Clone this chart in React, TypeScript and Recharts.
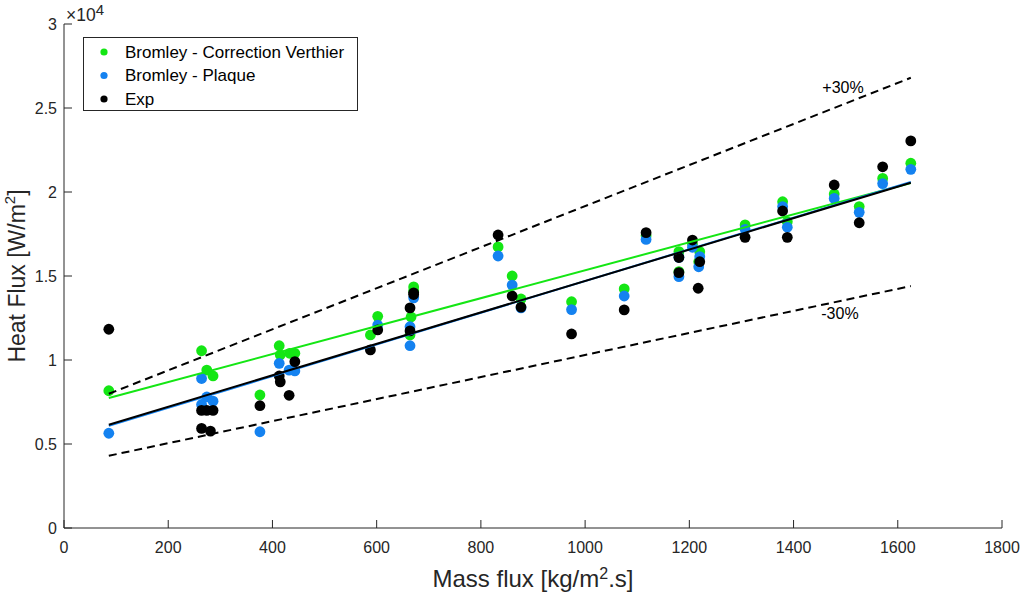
import React from 'react';
import { ScatterChart, Scatter, XAxis, YAxis, ReferenceDot } from 'recharts';

const xTicks = [0, 200, 400, 600, 800, 1000, 1200, 1400, 1600, 1800];
const yTicks = [0, 5000, 10000, 15000, 20000, 25000, 30000];

const seriesNames = ['Bromley - Correction Verthier', 'Bromley - Plaque', 'Exp'];
const seriesColors = ['#14e614', '#1482f0', '#000000'];

const verthierX = [86, 264, 274, 286, 376, 413, 415, 433, 443, 588, 602, 664, 666, 671, 671, 833, 860, 877, 974, 1075, 1117, 1180, 1180, 1206, 1220, 1218, 1307, 1379, 1388, 1478, 1526, 1571, 1625];
const verthierY = [8170, 10550, 9400, 9050, 7920, 10850, 10300, 10400, 10400, 11490, 12600, 11490, 12560, 14350, 14100, 16730, 15000, 13630, 13470, 14230, 17400, 16450, 15260, 16900, 16450, 15850, 18040, 19420, 18230, 19880, 19130, 20810, 21710];

const plaqueX = [86, 264, 264, 274, 286, 376, 413, 432, 443, 602, 664, 664, 671, 833, 860, 877, 974, 1075, 1117, 1180, 1180, 1206, 1220, 1218, 1307, 1379, 1388, 1478, 1526, 1571, 1625];
const plaqueY = [5640, 8900, 7350, 7800, 7550, 5730, 9800, 9400, 9350, 12080, 11980, 10850, 13700, 16190, 14460, 13100, 13000, 13810, 17180, 16110, 14960, 16710, 16150, 15550, 17780, 19130, 17900, 19620, 18790, 20500, 21350];

const expX = [86, 264, 274, 286, 264, 281, 376, 413, 415, 432, 443, 588, 602, 664, 664, 671, 671, 833, 860, 877, 974, 1075, 1117, 1180, 1180, 1206, 1220, 1217, 1307, 1379, 1388, 1478, 1526, 1571, 1625];
const expY = [11830, 7000, 7000, 7000, 5930, 5770, 7280, 9050, 8700, 7900, 9900, 10600, 11790, 11730, 13100, 14000, 13900, 17440, 13810, 13150, 11550, 12980, 17580, 16100, 15200, 17140, 15850, 14270, 17300, 18870, 17300, 20420, 18170, 21500, 23040];

const fitX = [86, 1625];
const fitVerthierY = [7740, 20540];
const fitPlaqueY = [6080, 20600];
const fitExpY = [6150, 20550];
const plus30Y = [7990, 26800];
const minus30Y = [4300, 14400];

const zip = (xs: number[], ys: number[]) => xs.map((x, i) => ({ x, y: ys[i] }));

const FONT = '"Liberation Sans", Arial, Helvetica, sans-serif';
const AX = '#262626';

const Dot = (color: string) => (props: any) => (
  <circle cx={props.cx} cy={props.cy} r={5.4} fill={color} stroke="none" />
);
const NoDot = () => <g />;

const YLabel = (props: any) => {
  const vb = props.viewBox || {};
  const cy = vb.y + vb.height / 2;
  return (
    <text x={19} y={cy} transform={`rotate(-90 19 ${cy})`} textAnchor="middle" fontSize={23} dominantBaseline="middle" fontFamily={FONT} fill={AX}>
      Heat Flux [W/m<tspan dy={-8} fontSize={15}>2</tspan><tspan dy={8}>]</tspan>
    </text>
  );
};

const XLabel = (props: any) => {
  const vb = props.viewBox || {};
  const cx = vb.x + vb.width / 2;
  return (
    <text x={cx} y={587} textAnchor="middle" fontSize={24} fontFamily={FONT} fill={AX}>
      Mass flux [kg/m<tspan dy={-8} fontSize={16}>2</tspan><tspan dy={8}>.s]</tspan>
    </text>
  );
};

const Exponent = () => (
  <svg width={60} height={26} style={{ position: 'absolute', left: 60, top: 0, overflow: 'visible' }}>
    <text x={6} y={20.5} fontSize={17.5} fontFamily={FONT} fill={AX}>
      ×10<tspan dy={-6} fontSize={15}>4</tspan>
    </text>
  </svg>
);

const LegendBox = () => (
  <div style={{ position: 'absolute', left: 83, top: 37, width: 275, height: 74, boxSizing: 'border-box', border: `1px solid ${AX}`, background: '#fff' }}>
    <svg width={273} height={72} style={{ display: 'block' }}>
      {seriesNames.map((n, i) => (
        <g key={n}>
          <circle cx={20} cy={14 + i * 23.5} r={3.6} fill={seriesColors[i]} />
          <text x={41} y={14 + i * 23.5} dominantBaseline="central" fontSize={17} fontFamily={FONT} fill="#000">{n}</text>
        </g>
      ))}
    </svg>
  </div>
);

const pctLabel = (txt: string) => (props: any) => {
  const vb = props.viewBox || {};
  return (
    <text x={vb.x} y={vb.y} textAnchor="middle" dominantBaseline="central" fontSize={16} fontFamily={FONT} fill="#000">{txt}</text>
  );
};

export default function App() {
  return (
    <div style={{ position: 'relative', width: 1022, height: 595 }}>
      <style>{`html, body { margin: 0; padding: 0; overflow: hidden; } .recharts-surface { overflow: visible; }`}</style>
      <ScatterChart width={1022} height={595} margin={{ top: 24, right: 20, bottom: 0, left: 0 }}>
        <XAxis
          type="number"
          dataKey="x"
          domain={[0, 1800]}
          ticks={xTicks}
          height={67}
          tickSize={-8}
          tickMargin={22}
          axisLine={{ stroke: AX }}
          tickLine={{ stroke: AX }}
          tick={{ fill: AX, fontSize: 16, fontFamily: FONT }}
          allowDataOverflow
          label={<XLabel />}
        />
        <YAxis
          type="number"
          dataKey="y"
          domain={[0, 30000]}
          ticks={yTicks}
          width={64}
          tickSize={-8}
          tickMargin={15}
          axisLine={{ stroke: AX }}
          tickLine={{ stroke: AX }}
          tick={{ fill: AX, fontSize: 16, fontFamily: FONT }}
          tickFormatter={(v: number) => String(v / 10000)}
          allowDataOverflow
          label={<YLabel />}
        />
        <Scatter data={zip(verthierX, verthierY)} fill={seriesColors[0]} shape={Dot(seriesColors[0])} isAnimationActive={false} />
        <Scatter data={zip(plaqueX, plaqueY)} fill={seriesColors[1]} shape={Dot(seriesColors[1])} isAnimationActive={false} />
        <Scatter data={zip(expX, expY)} fill={seriesColors[2]} shape={Dot(seriesColors[2])} isAnimationActive={false} />
        <Scatter data={zip(fitX, plus30Y)} fill="#000" line={{ stroke: '#000', strokeWidth: 2, strokeDasharray: '8 5' }} shape={NoDot} isAnimationActive={false} />
        <Scatter data={zip(fitX, minus30Y)} fill="#000" line={{ stroke: '#000', strokeWidth: 2, strokeDasharray: '8 5' }} shape={NoDot} isAnimationActive={false} />
        <Scatter data={zip(fitX, fitVerthierY)} fill={seriesColors[0]} line={{ stroke: seriesColors[0], strokeWidth: 2 }} shape={NoDot} isAnimationActive={false} />
        <Scatter data={zip(fitX, fitPlaqueY)} fill={seriesColors[1]} line={{ stroke: seriesColors[1], strokeWidth: 2 }} shape={NoDot} isAnimationActive={false} />
        <Scatter data={zip(fitX, fitExpY)} fill="#000" line={{ stroke: '#000', strokeWidth: 2 }} shape={NoDot} isAnimationActive={false} />
        <ReferenceDot x={1495} y={26250} r={0} fill="none" stroke="none" label={pctLabel('+30%')} />
        <ReferenceDot x={1489} y={12740} r={0} fill="none" stroke="none" label={pctLabel('-30%')} />
      </ScatterChart>
      <Exponent />
      <LegendBox />
    </div>
  );
}
